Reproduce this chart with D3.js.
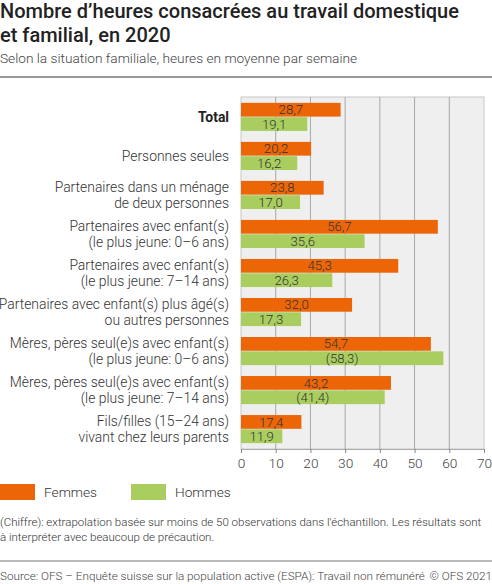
<!DOCTYPE html>
<html>
<head>
<meta charset="utf-8">
<script src="https://cdn.jsdelivr.net/npm/d3@7"></script>
<style>
  body { margin: 0; background: #fff; }
  svg { display: block; font-family: Roboto, "Noto Sans", sans-serif; font-weight: 300; }
</style>
</head>
<body>
<div id="chart"></div>
<script>
// categories (each label may span two lines)
const categories = [
  ["Total"],
  ["Personnes seules"],
  ["Partenaires dans un ménage", "de deux personnes"],
  ["Partenaires avec enfant(s)", "(le plus jeune: 0–6 ans)"],
  ["Partenaires avec enfant(s)", "(le plus jeune: 7–14 ans)"],
  ["Partenaires avec enfant(s) plus âgé(s)", "ou autres personnes"],
  ["Mères, pères seul(e)s avec enfant(s)", "(le plus jeune: 0–6 ans)"],
  ["Mères, pères seul(e)s avec enfant(s)", "(le plus jeune: 7–14 ans)"],
  ["Fils/filles (15–24 ans)", "vivant chez leurs parents"]
];
const femmes = [28.7, 20.2, 23.8, 56.7, 45.3, 32.0, 54.7, 43.2, 17.4];
const hommes = [19.1, 16.2, 17.0, 35.6, 26.3, 17.3, 58.3, 41.4, 11.9];
// values based on fewer than 50 observations (shown in brackets)
const hommesUncertain = [false, false, false, false, false, false, true, true, false];
const seriesNames = ["Femmes", "Hommes"];
const xTicks = [0, 10, 20, 30, 40, 50, 60, 70];

const W = 492, H = 584;
const colors = { Femmes: "#ec6608", Hommes: "#a9ce5f" };
const fmt = v => v.toFixed(1).replace(".", ",");

const svg = d3.select("#chart").append("svg")
  .attr("width", W).attr("height", H);

// title
svg.append("text").attr("x", 0).attr("y", 18)
  .style("font-size", "20px").style("font-weight", "500").attr("fill", "#222")
  .text("Nombre d’heures consacrées au travail domestique");
svg.append("text").attr("x", 0).attr("y", 42)
  .style("font-size", "20px").style("font-weight", "500").attr("fill", "#222")
  .text("et familial, en 2020");
svg.append("text").attr("x", 0).attr("y", 63)
  .style("font-size", "13.7px").attr("fill", "#444")
  .text("Selon la situation familiale, heures en moyenne par semaine");
svg.append("line").attr("x1", 0).attr("x2", W).attr("y1", 77).attr("y2", 77)
  .attr("stroke", "#777").attr("stroke-width", 1.5);

// plot
const plot = { left: 241, right: 484, top: 97, bottom: 449 };
const x = d3.scaleLinear().domain([0, 70]).range([plot.left, plot.right]);
const y = d3.scaleBand().domain(d3.range(categories.length))
  .range([plot.top, plot.bottom]).paddingInner(0.28).paddingOuter(0.15);
const ySub = d3.scaleBand().domain(seriesNames).range([0, y.bandwidth()]).paddingInner(0.04);

svg.append("rect")
  .attr("x", plot.left).attr("y", plot.top)
  .attr("width", plot.right - plot.left).attr("height", plot.bottom - plot.top)
  .attr("fill", "#efefef").attr("stroke", "#c8c8c8").attr("stroke-width", 1);

svg.append("g").selectAll("line").data(xTicks.slice(1, -1)).join("line")
  .attr("x1", d => x(d)).attr("x2", d => x(d))
  .attr("y1", plot.top).attr("y2", plot.bottom)
  .attr("stroke", "#a8a8a8").attr("stroke-width", 1);

// x axis
const xAxis = svg.append("g")
  .attr("transform", `translate(0,${plot.bottom})`)
  .call(d3.axisBottom(x).tickValues(xTicks).tickSize(4).tickPadding(5).tickFormat(d3.format("d")));
xAxis.select(".domain").attr("stroke", "#aaa");
xAxis.selectAll(".tick line").attr("stroke", "#888");
xAxis.selectAll("text").style("font-size", "13.7px").attr("fill", "#444")
  .style("font-family", "Roboto, sans-serif").style("font-weight", "300");

// bars
const rows = categories.map((c, i) => ({
  i,
  values: [
    { key: "Femmes", v: femmes[i], uncertain: false },
    { key: "Hommes", v: hommes[i], uncertain: hommesUncertain[i] }
  ]
}));

const grp = svg.append("g").selectAll("g").data(rows).join("g")
  .attr("transform", d => `translate(0,${y(d.i)})`);

const bar = grp.selectAll("g").data(d => d.values).join("g");
bar.append("rect")
  .attr("x", x(0)).attr("y", d => ySub(d.key))
  .attr("width", d => x(d.v) - x(0)).attr("height", ySub.bandwidth())
  .attr("fill", d => colors[d.key]);
bar.append("text")
  .attr("x", d => (x(0) + x(d.v)) / 2)
  .attr("y", d => ySub(d.key) + ySub.bandwidth() / 2 + 4.6)
  .attr("text-anchor", "middle")
  .style("font-size", "13.2px").attr("fill", "#333")
  .text(d => d.uncertain ? `(${fmt(d.v)})` : fmt(d.v));

// category labels
grp.append("text")
  .attr("text-anchor", "end")
  .style("font-size", "13.9px")
  .style("font-weight", d => d.i === 0 ? "700" : "300")
  .attr("fill", d => d.i === 0 ? "#222" : "#333")
  .each(function (d) {
    const lines = categories[d.i];
    const mid = y.bandwidth() / 2;
    const t = d3.select(this);
    lines.forEach((ln, k) => {
      t.append("tspan").attr("x", 229)
        .attr("y", mid + 4.8 + (k - (lines.length - 1) / 2) * 16.5)
        .text(ln);
    });
  });

// legend
const legend = svg.append("g").selectAll("g").data(seriesNames).join("g")
  .attr("transform", (d, i) => `translate(${i * 131},484)`);
legend.append("rect").attr("width", 35).attr("height", 16)
  .attr("fill", d => colors[d]);
legend.append("text").attr("x", 44).attr("y", 13)
  .style("font-size", "13.7px").attr("fill", "#333").text(d => d);

// note
svg.append("text").attr("x", 0).attr("y", 526)
  .style("font-size", "11.5px").attr("fill", "#333")
  .text("(Chiffre): extrapolation basée sur moins de 50 observations dans l'échantillon. Les résultats sont");
svg.append("text").attr("x", 0).attr("y", 541)
  .style("font-size", "11.5px").attr("fill", "#333")
  .text("à interpréter avec beaucoup de précaution.");

// source
svg.append("line").attr("x1", 0).attr("x2", W).attr("y1", 561).attr("y2", 561)
  .attr("stroke", "#777").attr("stroke-width", 1);
svg.append("text").attr("x", 0).attr("y", 580)
  .style("font-size", "11.7px").attr("fill", "#444")
  .text("Source: OFS – Enquête suisse sur la population active (ESPA): Travail non rémunéré");
svg.append("text").attr("x", W).attr("y", 580).attr("text-anchor", "end")
  .style("font-size", "11.7px").attr("fill", "#444")
  .text("© OFS 2021");
</script>
</body>
</html>
